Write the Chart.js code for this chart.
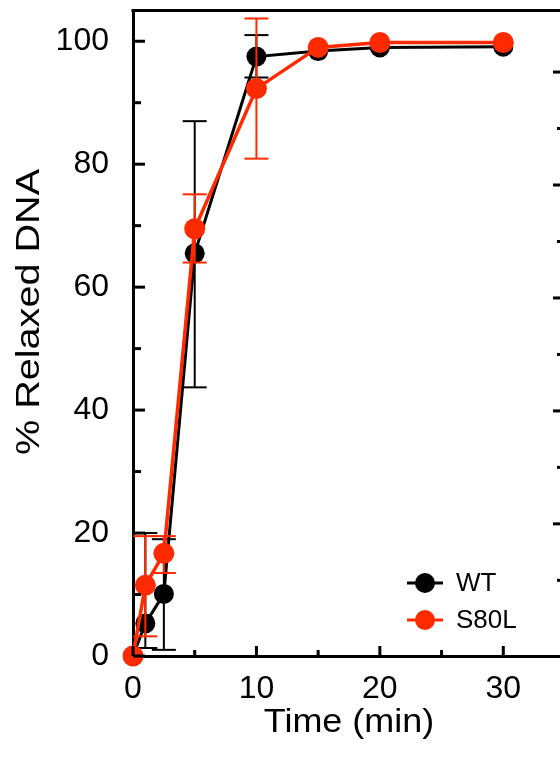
<!DOCTYPE html>
<html>
<head>
<meta charset="utf-8">
<script src="https://cdn.jsdelivr.net/npm/chart.js@4"></script>
<style>
  body { margin: 0; overflow: hidden; background: #fff; }
  #wrap { width: 600px; height: 760px; }
</style>
</head>
<body>
<div id="wrap"><canvas id="myChart" width="600" height="760"></canvas></div>
<script>
'use strict';
// time points (min)
let times = [0, 1, 2.5, 5, 10, 15, 20, 30];
// WT series + error bar ends
let wt = [0, 5.3, 10.1, 65.5, 97.5, 98.4, 99.0, 99.1];
let wtLow = [0, 1.3, 1.0, 43.7, 94.1, 98.4, 99.0, 99.1];
let wtHigh = [0, 20, 19, 87, 101, 98.4, 99.0, 99.1];
// S80L series + error bar ends
let s80l = [0, 11.5, 16.7, 69.5, 92.3, 99.0, 99.8, 99.8];
let s80lLow = [0, 3.2, 13.5, 64.0, 80.9, 99.0, 99.8, 99.8];
let s80lHigh = [0, 19.5, 19.5, 75.1, 103.7, 99.0, 99.8, 99.8];
// axis ticks
let xTicks = [0, 10, 20, 30];
let xMinor = [5, 15, 25];
let yTicks = [0, 20, 40, 60, 80, 100];
let yMinor = [10, 30, 50, 70, 90];
// ticks of the next panel's axis, cut at the right edge
let sideTicks = [20, 40, 60, 80, 100];
let sideMinor = [10, 30, 50, 70, 90];

let labelNames = ['WT', 'S80L'];
let colors = ['#000000', '#ff2a00'];
let xTitle = 'Time (min)';
let yTitle = '% Relaxed DNA';
let font = '"Liberation Sans", Arial, sans-serif';

function tickLine(ctx, x1, y1, x2, y2) {
  ctx.beginPath();
  ctx.moveTo(x1, y1);
  ctx.lineTo(x2, y2);
  ctx.stroke();
}

let decor = {
  id: 'decor',
  beforeDatasetDraw(chart, args) {
    let ds = chart.data.datasets[args.index];
    let xs = chart.scales.x, ys = chart.scales.y;
    let ctx = chart.ctx;
    ctx.save();
    ctx.strokeStyle = ds.borderColor;
    ctx.lineWidth = 2;
    for (let j = 0; j < times.length; j++) {
      let lo = ds.errLow[j], hi = ds.errHigh[j];
      if (hi - lo < 0.5) continue;
      let x = xs.getPixelForValue(times[j]);
      let yl = ys.getPixelForValue(lo), yh = ys.getPixelForValue(hi);
      tickLine(ctx, x, yl, x, yh);
      tickLine(ctx, x - 12, yl, x + 12, yl);
      tickLine(ctx, x - 12, yh, x + 12, yh);
    }
    ctx.restore();
  },
  afterDraw(chart) {
    let ctx = chart.ctx;
    let xs = chart.scales.x, ys = chart.scales.y, y2 = chart.scales.y2;
    let a = chart.chartArea;
    ctx.save();
    ctx.strokeStyle = '#000';
    ctx.lineWidth = 3;
    // top frame line
    tickLine(ctx, a.left - 1.5, a.top, a.right, a.top);
    // inward ticks
    yTicks.forEach(v => { let p = ys.getPixelForValue(v); tickLine(ctx, a.left, p, a.left + 12, p); });
    yMinor.forEach(v => { let p = ys.getPixelForValue(v); tickLine(ctx, a.left, p, a.left + 8, p); });
    xTicks.forEach(v => { let p = xs.getPixelForValue(v); tickLine(ctx, p, a.bottom, p, a.bottom - 10); });
    xMinor.forEach(v => { let p = xs.getPixelForValue(v); tickLine(ctx, p, a.bottom, p, a.bottom - 6); });
    sideTicks.forEach(v => { let p = y2.getPixelForValue(v); tickLine(ctx, 553, p, 561, p); });
    sideMinor.forEach(v => { let p = y2.getPixelForValue(v); tickLine(ctx, 557, p, 561, p); });

    // axis titles (the source stretches its text a bit)
    ctx.fillStyle = '#000';
    ctx.textAlign = 'center';
    ctx.textBaseline = 'middle';
    ctx.font = '33px ' + font;
    ctx.save();
    ctx.translate(30, 312);
    ctx.rotate(-Math.PI / 2);
    ctx.scale(1.2, 1);
    ctx.fillText(yTitle, 0, 0);
    ctx.restore();
    ctx.save();
    ctx.translate(349, 723);
    ctx.scale(1.09, 1);
    ctx.fillText(xTitle, 0, 0);
    ctx.restore();

    // legend
    ctx.font = '26px ' + font;
    ctx.textAlign = 'left';
    let rows = [583, 620];
    for (let i = 0; i < labelNames.length; i++) {
      ctx.strokeStyle = colors[i];
      ctx.fillStyle = colors[i];
      ctx.lineWidth = 3;
      tickLine(ctx, 407, rows[i], 443, rows[i]);
      ctx.beginPath();
      ctx.arc(425, rows[i], 10, 0, Math.PI * 2);
      ctx.fill();
      ctx.fillStyle = '#000';
      ctx.fillText(labelNames[i], 456, rows[i] + 1);
    }
    ctx.restore();
  }
};

function pts(vals) {
  return times.map((t, i) => ({x: t, y: vals[i]}));
}

function noPad(s) {
  s.paddingTop = 0;
  s.paddingBottom = 0;
  s.paddingLeft = 0;
  s.paddingRight = 0;
}

let ctx = document.getElementById('myChart').getContext('2d');
let myChart = new Chart(ctx, {
  type: 'line',
  data: {
    datasets: [
      {label: labelNames[0], data: pts(wt), errLow: wtLow, errHigh: wtHigh,
        borderColor: colors[0], backgroundColor: colors[0], borderWidth: 3,
        pointRadius: 10, pointBorderWidth: 0, order: 2, clip: false},
      {label: labelNames[1], data: pts(s80l), errLow: s80lLow, errHigh: s80lHigh,
        borderColor: colors[1], backgroundColor: colors[1], borderWidth: 3.5,
        pointRadius: 10.5, pointBorderWidth: 0, order: 1, clip: false}
    ]
  },
  options: {
    responsive: false,
    animation: false,
    devicePixelRatio: 1,
    layout: {padding: {left: 0, top: 10, right: 35, bottom: 0}},
    plugins: {legend: {display: false}, tooltip: {enabled: false}},
    scales: {
      x: {
        type: 'linear', min: 0, max: 35,
        afterFit: s => { s.height = 104; noPad(s); },
        afterBuildTicks: s => { s.ticks = xTicks.map(v => ({value: v})); },
        grid: {display: false},
        border: {display: true, color: '#000', width: 3},
        ticks: {color: '#000', padding: 6, font: {family: font, size: 32}}
      },
      y: {
        type: 'linear', min: 0, max: 105,
        afterFit: s => { s.width = 133; noPad(s); },
        afterBuildTicks: s => { s.ticks = yTicks.map(v => ({value: v})); },
        grid: {display: false},
        border: {display: true, color: '#000', width: 3},
        ticks: {color: '#000', padding: 16, font: {family: font, size: 32}}
      },
      y2: {
        type: 'linear', position: 'right', display: false, min: -3.4, max: 110.9
      }
    }
  },
  plugins: [decor]
});
</script>
</body>
</html>
